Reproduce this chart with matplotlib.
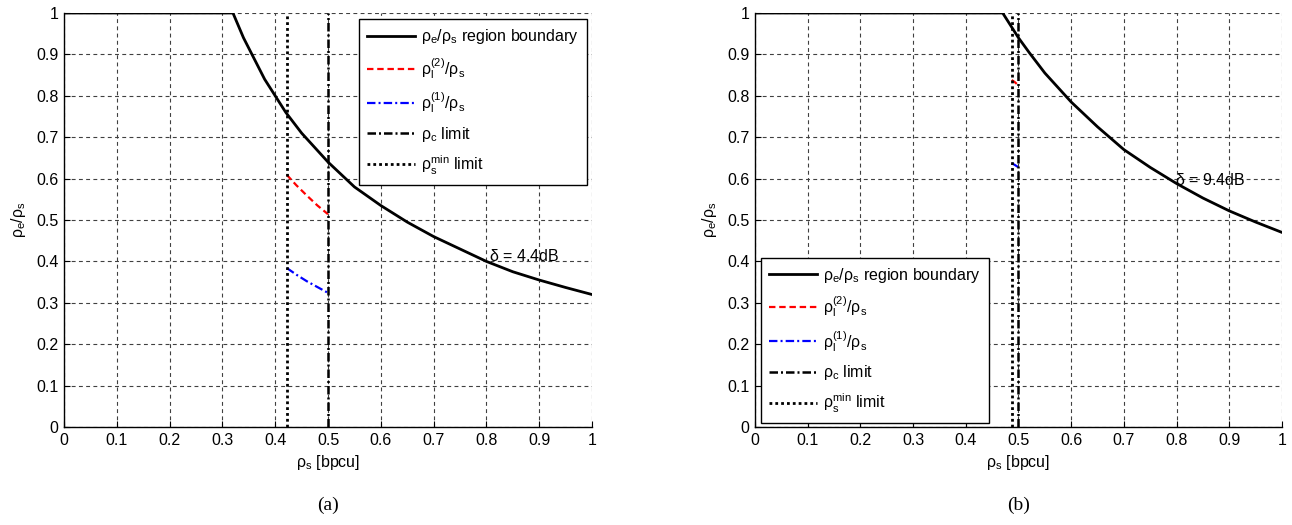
import matplotlib
matplotlib.use('Agg')
import matplotlib.pyplot as plt
import numpy as np

plt.rcParams['font.family'] = ['Liberation Sans', 'DejaVu Sans']
plt.rcParams['mathtext.fontset'] = 'custom'
plt.rcParams['mathtext.rm'] = 'Liberation Sans'
plt.rcParams['mathtext.it'] = 'Liberation Sans'
plt.rcParams['font.size'] = 11.5

# ---- panel (a), delta = 4.4 dB
xa = [0, 0.1, 0.2, 0.3, 0.32, 0.34, 0.36, 0.38, 0.40, 0.42, 0.45, 0.5, 0.55,
      0.6, 0.65, 0.7, 0.75, 0.8, 0.85, 0.9, 0.95, 1.0]
ya = [1, 1, 1, 1, 1, 0.94, 0.89, 0.84, 0.80, 0.76, 0.71, 0.64, 0.58,
      0.535, 0.495, 0.46, 0.43, 0.40, 0.375, 0.355, 0.337, 0.32]
xa_l = [0.422, 0.44, 0.46, 0.48, 0.5]
ya_l2 = [0.609, 0.584, 0.559, 0.535, 0.514]
ya_l1 = [0.384, 0.368, 0.352, 0.338, 0.324]
rc_a = 0.5
rsmin_a = 0.422
lab_a = (0.805, 0.413, r'$\mathregular{\delta}$ = 4.4dB')

# ---- panel (b), delta = 9.4 dB
xb = [0, 0.1, 0.2, 0.3, 0.4, 0.47, 0.48, 0.5, 0.52, 0.55, 0.6, 0.65, 0.7,
      0.75, 0.8, 0.85, 0.9, 0.95, 1.0]
yb = [1, 1, 1, 1, 1, 1, 0.98, 0.94, 0.905, 0.855, 0.785, 0.725, 0.67,
      0.627, 0.588, 0.553, 0.522, 0.495, 0.47]
xb_l = [0.487, 0.493, 0.499]
yb_l2 = [0.838, 0.833, 0.826]
yb_l1 = [0.637, 0.633, 0.628]
rc_b = 0.5
rsmin_b = 0.487
lab_b = (0.797, 0.597, r'$\mathregular{\delta}$ = 9.4dB')

ticks = np.arange(0, 1.01, 0.1)
ticklabels = ['0'] + ['%.1f' % t for t in ticks[1:-1]] + ['1']

fig = plt.figure(figsize=(12.92, 5.25), dpi=100)
ax1 = fig.add_axes([64/1292, 98/525, 528/1292, 414/525])
ax2 = fig.add_axes([755/1292, 98/525, 527/1292, 414/525])

panels = [
    (ax1, xa, ya, xa_l, ya_l2, ya_l1, rc_a, rsmin_a, lab_a, '(a)',
     dict(loc='upper right', bbox_to_anchor=(0.99, 0.985))),
    (ax2, xb, yb, xb_l, yb_l2, yb_l1, rc_b, rsmin_b, lab_b, '(b)',
     dict(loc='lower left', bbox_to_anchor=(0.011, 0.01))),
]

for ax, x, y, xl, yl2, yl1, rc, rsmin, lab, cap, legkw in panels:
    ax.plot(x, y, 'k-', lw=2, label=r'$\mathregular{\rho_e/\rho_s}$ region boundary')
    ax.plot(xl, yl2, color='red', lw=1.6, ls=(0, (2.9, 1.7)),
            label=r'$\mathregular{\rho_l^{(2)}/\rho_s}$')
    ax.plot(xl, yl1, color='blue', lw=1.6, ls=(0, (3.8, 1.4, 0.9, 1.4)),
            label=r'$\mathregular{\rho_l^{(1)}/\rho_s}$')
    ax.axvline(rc, color='k', lw=1.8, ls=(0, (3.4, 1.2, 0.8, 1.2)),
               label=r'$\mathregular{\rho_c}$ limit')
    ax.axvline(rsmin, color='k', lw=2, ls=(0, (1, 1.1)),
               label=r'$\mathregular{\rho_s^{min}}$ limit')
    ax.text(lab[0], lab[1], lab[2], fontsize=11.5, va='center', ha='left')
    ax.set_xlim(0, 1)
    ax.set_ylim(0, 1)
    ax.set_xticks(ticks)
    ax.set_xticklabels(ticklabels)
    ax.set_yticks(ticks)
    ax.set_yticklabels(ticklabels)
    ax.tick_params(direction='in', length=4, width=0.8, pad=4)
    ax.grid(True, color='0.25', ls=(0, (3.5, 3)), lw=0.8)
    ax.set_axisbelow(True)
    ax.spines['top'].set_visible(False)
    ax.spines['right'].set_visible(False)
    ax.spines['left'].set_linewidth(1)
    ax.spines['bottom'].set_linewidth(1)
    ax.set_xlabel(r'$\mathregular{\rho_s}$ [bpcu]', labelpad=4)
    ax.set_ylabel(r'$\mathregular{\rho_e/\rho_s}$', labelpad=6)
    leg = ax.legend(fancybox=False, edgecolor='k', framealpha=1, handlelength=3.0,
                    handletextpad=0.4, labelspacing=0.6, borderpad=0.5,
                    borderaxespad=0, fontsize=11.5, **legkw)
    leg.get_frame().set_linewidth(1)
    ax.text(0.5, -0.19, cap, transform=ax.transAxes, ha='center', va='center',
            family='Liberation Serif', fontsize=14)

fig.savefig('out.png', dpi=100)
